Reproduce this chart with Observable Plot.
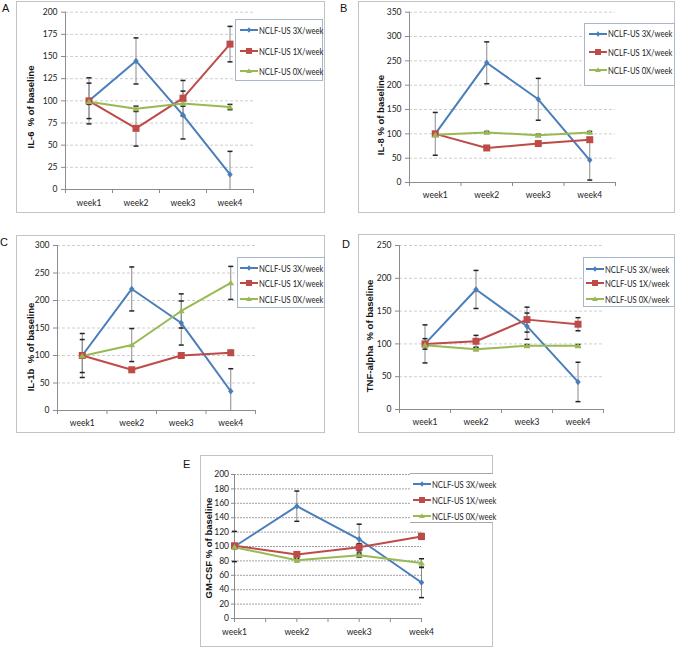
<!DOCTYPE html>
<html><head><meta charset="utf-8">
<script src="https://cdn.jsdelivr.net/npm/d3@7"></script>
<script src="https://cdn.jsdelivr.net/npm/@observablehq/plot@0.6"></script>
<style>
body{margin:0;background:#fff;}
#fig{position:relative;width:677px;height:647px;overflow:hidden;font-family:Lato,sans-serif;}
.box{position:absolute;box-sizing:border-box;border:1px solid #c3c3c3;}
.letter{position:absolute;font:11px "Liberation Sans",Arial,sans-serif;color:#111;line-height:11px;}
.ylab{position:absolute;font:bold 9.5px "Liberation Sans",Arial,sans-serif;color:#111;white-space:pre;transform:translate(-50%,-50%) rotate(-90deg);}
.legend{position:absolute;box-sizing:border-box;border:1px solid #a9b6c8;background:#fff;}
.legend .row{position:absolute;height:12px;display:flex;align-items:center;font:9px Lato,sans-serif;color:#222;white-space:nowrap;}
.legend .row span{display:inline-block;transform:scaleX(0.85);transform-origin:left center;}
.plot{position:absolute;}
</style></head>
<body>
<div id="fig"></div>
<script>
// ---------- data ----------
const weeks = ["week1", "week2", "week3", "week4"];
const seriesNames = ["NCLF-US 3X/week", "NCLF-US 1X/week", "NCLF-US 0X/week"];
const seriesColors = ["#4a7ebb", "#be4b48", "#98b954"];

// A: IL-6
const il6_3x = [100, 145, 84, 17];   const il6_3x_err = [26, 26, 27, 26];
const il6_1x = [100, 69, 103, 164];  const il6_1x_err = [20, 20, 20, 20];
const il6_0x = [99, 91, 97, 93];     const il6_0x_err = [3, 3, 3, 3];
// B: IL-8
const il8_3x = [100, 246, 171, 46];  const il8_3x_err = [44, 43, 43, 41];
const il8_1x = [100, 71, 80, 88];    const il8_1x_err = [3, 3, 3, 3];
const il8_0x = [98, 103, 97, 103];   const il8_0x_err = [2, 2, 2, 2];
// C: IL-1b
const il1b_3x = [100, 221, 159, 35]; const il1b_3x_err = [40, 40, 40, 41];
const il1b_1x = [100, 74, 100, 105]; const il1b_1x_err = [3, 4, 4, 4];
const il1b_0x = [99, 119, 181, 232]; const il1b_0x_err = [30, 30, 31, 30];
// D: TNF-alpha
const tnf_3x = [100, 183, 127, 42];  const tnf_3x_err = [29, 29, 20, 30];
const tnf_1x = [100, 104, 137, 130]; const tnf_1x_err = [8, 9, 19, 10];
const tnf_0x = [98, 92, 97, 97];     const tnf_0x_err = [2, 2, 2, 2];
// E: GM-CSF
const gm_3x = [100, 156, 110, 50];   const gm_3x_err = [21, 21, 21, 21];
const gm_1x = [101, 89, 99, 114];    const gm_1x_err = [3, 3, 5, 4];
const gm_0x = [99, 81, 88, 77];      const gm_0x_err = [2, 2, 3, 6];

const yLabels = ["IL-6  % of baseline", "IL-8 % of baseline", "IL-1b  % of baseline", "TNF-alpha  % of baseline", "GM-CSF % of baseline"];
const letters = ["A", "B", "C", "D", "E"];

// ---------- symbols ----------
const rOf = size => Math.sqrt(size / Math.PI);
const capSym = {draw(c, s){ const r = rOf(s); c.moveTo(-r, 0); c.lineTo(r, 0); }};
const diamondSym = {draw(c, s){ const r = rOf(s); c.moveTo(0, -r); c.lineTo(r * 0.85, 0); c.lineTo(0, r); c.lineTo(-r * 0.85, 0); c.closePath(); }};
const squareSym = {draw(c, s){ const r = rOf(s); c.rect(-r, -r, 2 * r, 2 * r); }};
const triSym = {draw(c, s){ const r = rOf(s); c.moveTo(0, -r); c.lineTo(r * 1.1, r * 0.75); c.lineTo(-r * 1.1, r * 0.75); c.closePath(); }};
const markerSyms = [diamondSym, squareSym, triSym];
const markerR = [3.2, 3.5, 3.1];

// ---------- layout ----------
const layouts = [
  {values: [il6_3x, il6_1x, il6_0x], errs: [il6_3x_err, il6_1x_err, il6_0x_err], yMax: 200, yStep: 25,
   box: [16, 1, 309, 212], m: [10.7, 72, 24, 49], xPad: 10, yTick: [4, 4], edge: false,
   letter: [2, 3], ylab: [30, 107], legend: {box: [235, 19, 88, 62], rows: [10, 31, 51], sw: 4, full: true}},
  {values: [il8_3x, il8_1x, il8_0x], errs: [il8_3x_err, il8_1x_err, il8_0x_err], yMax: 350, yStep: 50,
   box: [358, 1, 317, 212], m: [10.7, 60, 31, 51], xPad: 9.5, yTick: [4, 4], edge: false,
   letter: [340, 3], ylab: [380, 115], legend: {box: [584, 23, 91, 63], rows: [9.5, 28, 46], sw: 4, full: true}},
  {values: [il1b_3x, il1b_1x, il1b_0x], errs: [il1b_3x_err, il1b_1x_err, il1b_0x_err], yMax: 300, yStep: 50,
   box: [16, 235, 309, 198], m: [10, 70, 23, 41], xPad: 9, yTick: [4, 4], edge: false,
   letter: [0, 236.5], ylab: [30, 347], legend: {box: [237, 257, 88, 51], rows: [10, 25, 41], sw: 2, full: true}},
  {values: [tnf_3x, tnf_1x, tnf_0x], errs: [tnf_3x_err, tnf_1x_err, tnf_0x_err], yMax: 250, yStep: 50,
   box: [358, 234, 317, 199], m: [11, 72, 24, 41], xPad: 9.5, yTick: [4, 4], edge: false,
   letter: [342, 238.5], ylab: [369, 336], legend: {box: [583, 257, 92, 50], rows: [11, 25, 41], sw: 2, full: true}},
  {values: [gm_3x, gm_1x, gm_0x], errs: [gm_3x_err, gm_1x_err, gm_0x_err], yMax: 200, yStep: 20,
   box: [200, 455, 293, 192], m: [19, 72, 29, 34], xPad: 10, yTick: [3, 2.5], edge: true,
   letter: [183, 458.5], ylab: [208, 548], legend: {box: [410, 473, 83, 50], rows: [10, 26, 42], sw: 3, full: false}}
];

const fig = document.getElementById("fig");
const axisColor = "#8c8c8c";

function el(tag, cls, css) {
  const e = document.createElement(tag);
  if (cls) e.className = cls;
  Object.assign(e.style, css || {});
  return e;
}

layouts.forEach((p, pi) => {
  const [bx, by, bw, bh] = p.box;
  fig.appendChild(el("div", "box", {left: bx + "px", top: by + "px", width: bw + "px", height: bh + "px"}));

  const rows = [];
  p.values.forEach((vals, si) => vals.forEach((v, wi) => {
    const e = p.errs[si][wi];
    rows.push({series: seriesNames[si], xi: wi + 1, y: v, lo: Math.max(0, v - e), hi: v + e});
  }));
  const xi = weeks.map((w, i) => i + 1);
  const xDomain = p.edge ? [1, weeks.length] : [0.5, weeks.length + 0.5];
  const bounds = p.edge ? d3.range(1, weeks.length + 0.01, 0.5) : d3.range(0.5, weeks.length + 0.51, 1);
  const yTicks = d3.range(0, p.yMax + 0.001, p.yStep);
  const gridStroke = p.edge ? "#a0a0a0" : "#cfcfcf";
  const gridDash = p.edge ? "2,1" : "3,2";

  const svg = Plot.plot({
    width: bw, height: bh,
    marginTop: p.m[0], marginRight: p.m[1], marginBottom: p.m[2], marginLeft: p.m[3],
    x: {type: "linear", domain: xDomain, axis: null},
    y: {domain: [0, p.yMax], axis: null},
    color: {domain: seriesNames, range: seriesColors},
    style: {fontFamily: "Lato, sans-serif", fontSize: "8.5px", color: "#222", background: "none", overflow: "visible"},
    marks: [
      Plot.ruleY(yTicks.slice(1), {stroke: gridStroke, strokeDasharray: gridDash}),
      Plot.ruleX([xDomain[0]], {stroke: axisColor}),
      Plot.ruleY([0], {stroke: axisColor}),
      Plot.axisY(yTicks, {tickSize: p.yTick[0], tickPadding: p.yTick[1], stroke: axisColor, fill: "#222", label: null}),
      Plot.axisX(bounds, {tickSize: 4, tickFormat: () => "", stroke: axisColor, label: null}),
      Plot.axisX(xi, {tickSize: 0, tickPadding: p.xPad, tickFormat: i => weeks[i - 1], fill: "#222", label: null}),
      Plot.ruleX(rows, {x: "xi", y1: "lo", y2: "hi", stroke: "#8a8a8a", strokeWidth: 1}),
      Plot.dot(rows, {x: "xi", y: "hi", symbol: capSym, r: 2.5, stroke: "#222", fill: "none"}),
      Plot.dot(rows.filter(d => d.lo > 0), {x: "xi", y: "lo", symbol: capSym, r: 2.5, stroke: "#222", fill: "none"}),
      Plot.line(rows, {x: "xi", y: "y", z: "series", stroke: "series", strokeWidth: 2}),
      ...seriesNames.map((s, si) => Plot.dot(rows.filter(d => d.series === s),
        {x: "xi", y: "y", fill: "series", symbol: markerSyms[si], r: markerR[si]}))
    ]
  });
  svg.classList.add("plot");
  svg.style.left = bx + "px";
  svg.style.top = by + "px";
  fig.appendChild(svg);

  // letter
  const L = el("div", "letter", {left: p.letter[0] + "px", top: p.letter[1] + "px"});
  L.textContent = letters[pi];
  fig.appendChild(L);

  // y label
  const Y = el("div", "ylab", {left: p.ylab[0] + "px", top: p.ylab[1] + "px"});
  Y.textContent = yLabels[pi];
  fig.appendChild(Y);

  // legend
  const lg = p.legend;
  const [lx, ly, lw, lh] = lg.box;
  const legCss = {left: lx + "px", top: ly + "px", width: lw + "px", height: lh + "px"};
  if (!lg.full) Object.assign(legCss, {borderLeft: "none", borderRight: "none", borderColor: "#a8a8a8"});
  const leg = el("div", "legend", legCss);
  seriesNames.forEach((s, si) => {
    const row = el("div", "row", {left: lg.sw + "px", top: (lg.rows[si] - 6) + "px"});
    const ns = "http://www.w3.org/2000/svg";
    const sw = document.createElementNS(ns, "svg");
    sw.setAttribute("width", 18); sw.setAttribute("height", 10);
    const ln = document.createElementNS(ns, "line");
    ln.setAttribute("x1", 0); ln.setAttribute("x2", 18); ln.setAttribute("y1", 5); ln.setAttribute("y2", 5);
    ln.setAttribute("stroke", seriesColors[si]); ln.setAttribute("stroke-width", 2);
    sw.appendChild(ln);
    const pth = document.createElementNS(ns, "path");
    const rr = markerR[si] * 0.85;
    pth.setAttribute("d", d3.symbol(markerSyms[si], rr * rr * Math.PI)());
    pth.setAttribute("transform", "translate(9,5)");
    pth.setAttribute("fill", seriesColors[si]);
    sw.appendChild(pth);
    row.appendChild(sw);
    const t = el("span", null, {marginLeft: "1px"});
    t.textContent = s;
    row.appendChild(t);
    leg.appendChild(row);
  });
  fig.appendChild(leg);
});
</script>
</body></html>
